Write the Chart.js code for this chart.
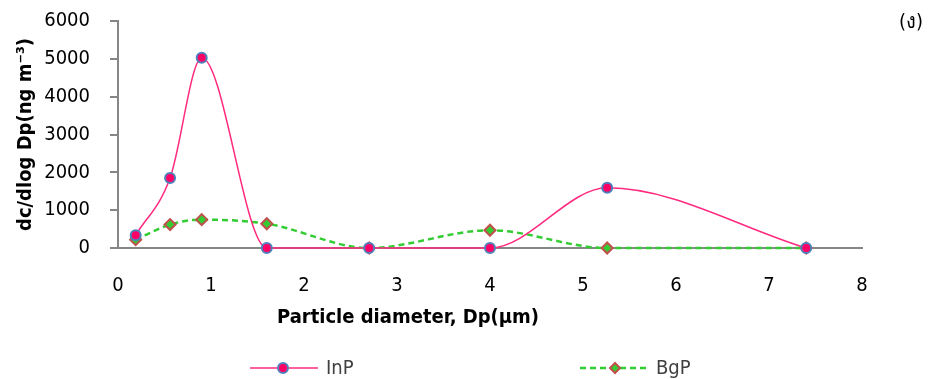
<!DOCTYPE html>
<html>
<head>
<meta charset="utf-8">
<script src="https://cdn.jsdelivr.net/npm/chart.js@4.4.0/dist/chart.umd.min.js"></script>
<style>
  body { margin: 0; background: #fff; }
  #wrap { width: 936px; height: 379px; position: relative; }
</style>
</head>
<body>
<div id="wrap"><canvas id="size-chart"></canvas></div>
<script>
// Particle size distribution, (ง)
const diameters = [0.19, 0.56, 0.9, 1.6, 2.7, 4.0, 5.26, 7.4];
const inpValues = [340, 1850, 5030, 0, 0, 0, 1590, 0];
const bgpValues = [220, 620, 750, 640, 0, 470, 0, 0];
const seriesNames = ['InP', 'BgP'];
const xTitle = 'Particle diameter, Dp(µm)';
const yTitle = 'dc/dlog Dp(ng m⁻³)';
const panelLabel = '(ง)';

const FONT = "'DejaVu Sans Condensed', 'DejaVu Sans', sans-serif";
const INP_LINE = '#FF2A7F';
const BGP_LINE = '#33CC33';

function toPoints(values) {
    return diameters.map((d, i) => ({ x: d, y: values[i] }));
}

// Extra texts and the line+marker legend
const extrasPlugin = {
    id: 'extras',
    afterDraw(chart) {
        const ctx = chart.ctx;
        ctx.save();
        ctx.fillStyle = '#000';
        ctx.font = 'bold 20px ' + FONT;
        ctx.textAlign = 'center';
        ctx.textBaseline = 'middle';
        ctx.fillText(xTitle, 408, 318);

        ctx.font = '20px ' + FONT;
        ctx.fillText(panelLabel, 911, 23);

        const ly = 368;
        // InP
        ctx.strokeStyle = INP_LINE;
        ctx.lineWidth = 1.5;
        ctx.setLineDash([]);
        ctx.beginPath(); ctx.moveTo(250, ly); ctx.lineTo(318, ly); ctx.stroke();
        ctx.beginPath(); ctx.arc(283, ly, 5, 0, Math.PI * 2);
        ctx.fillStyle = '#FF0066'; ctx.fill();
        ctx.strokeStyle = '#4F81BD'; ctx.lineWidth = 2; ctx.stroke();
        // BgP
        ctx.strokeStyle = BGP_LINE;
        ctx.lineWidth = 2.5;
        ctx.setLineDash([6, 4]);
        ctx.beginPath(); ctx.moveTo(580, ly); ctx.lineTo(648, ly); ctx.stroke();
        ctx.setLineDash([]);
        ctx.beginPath();
        ctx.moveTo(615, ly - 5); ctx.lineTo(620, ly); ctx.lineTo(615, ly + 5); ctx.lineTo(610, ly);
        ctx.closePath();
        ctx.fillStyle = BGP_LINE; ctx.fill();
        ctx.strokeStyle = '#C0504D'; ctx.lineWidth = 2; ctx.stroke();

        ctx.fillStyle = '#404040';
        ctx.font = '20px ' + FONT;
        ctx.textAlign = 'left';
        ctx.fillText(seriesNames[0], 326, ly + 1);
        ctx.fillText(seriesNames[1], 656, ly + 1);
        ctx.restore();
    }
};

new Chart(document.getElementById('size-chart'), {
    type: 'line',
    data: {
        datasets: [
            {
                label: seriesNames[0],
                data: toPoints(inpValues),
                borderColor: INP_LINE,
                borderWidth: 1.5,
                pointStyle: 'circle',
                pointRadius: 5,
                pointBackgroundColor: '#FF0066',
                pointBorderColor: '#4F81BD',
                pointBorderWidth: 2,
                cubicInterpolationMode: 'monotone',
                clip: false
            },
            {
                label: seriesNames[1],
                data: toPoints(bgpValues),
                borderColor: BGP_LINE,
                borderWidth: 2.5,
                borderDash: [6, 4],
                pointStyle: 'rectRot',
                pointRadius: 5.5,
                pointBackgroundColor: BGP_LINE,
                pointBorderColor: '#C0504D',
                pointBorderWidth: 2,
                cubicInterpolationMode: 'monotone',
                clip: false
            }
        ]
    },
    options: {
        responsive: true,
        maintainAspectRatio: false,
        animation: false,
        layout: { padding: { top: 21, right: 74, left: 0, bottom: 0 } },
        plugins: {
            legend: { display: false },
            tooltip: { enabled: false }
        },
        scales: {
            x: {
                type: 'linear',
                min: 0,
                max: 8,
                afterFit: scale => {
                    scale.height = 131;
                    scale.paddingLeft = 0;
                    scale.paddingRight = 0;
                },
                ticks: {
                    stepSize: 1,
                    padding: 26,
                    color: '#000',
                    callback: v => String(v),
                    font: { family: FONT, size: 20 }
                },
                grid: { display: false, drawTicks: false },
                border: { display: true, color: '#868686', width: 2 }
            },
            y: {
                min: 0,
                max: 6000,
                afterFit: scale => {
                    scale.width = 118;
                    scale.paddingTop = 0;
                    scale.paddingBottom = 0;
                },
                ticks: {
                    stepSize: 1000,
                    padding: 20,
                    color: '#000',
                    callback: v => String(v),
                    font: { family: FONT, size: 20 }
                },
                grid: {
                    drawOnChartArea: false,
                    drawTicks: true,
                    tickLength: 8,
                    color: '#868686',
                    lineWidth: 2
                },
                border: { display: true, color: '#868686', width: 2 },
                title: {
                    display: true,
                    text: yTitle,
                    color: '#000',
                    padding: { top: 14, bottom: 0 },
                    font: { family: FONT, size: 20, weight: 'bold' }
                }
            }
        }
    },
    plugins: [extrasPlugin]
});
</script>
</body>
</html>
